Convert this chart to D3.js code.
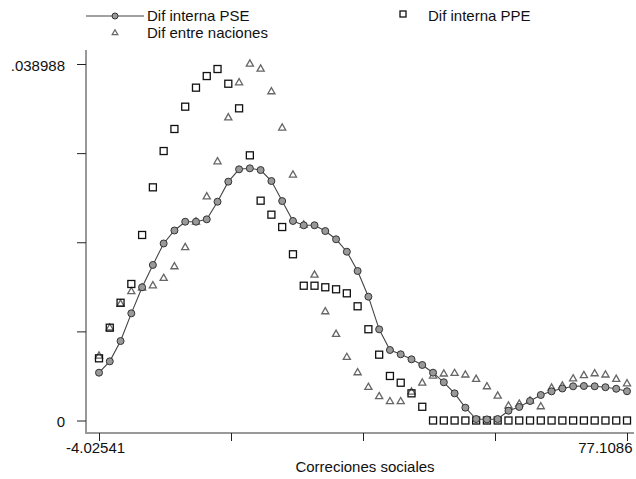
<!DOCTYPE html>
<html>
<head>
<meta charset="utf-8">
<script src="https://cdn.jsdelivr.net/npm/d3@7"></script>
<style>
  body { margin: 0; background: #fff; }
  text { font-family: "Liberation Sans", Arial, sans-serif; font-size: 15px; fill: #111; }
</style>
</head>
<body>
<svg id="chart" width="636" height="479"></svg>
<script>
// grid of kdensity points (50 points between min and max)
var xs = [-4.025, -2.370, -0.714, 0.942, 2.598, 4.254, 5.909, 7.565, 9.221, 10.877,
  12.533, 14.188, 15.844, 17.500, 19.156, 20.812, 22.467, 24.123, 25.779, 27.435,
  29.091, 30.746, 32.402, 34.058, 35.714, 37.370, 39.025, 40.681, 42.337, 43.993,
  45.649, 47.304, 48.960, 50.616, 52.272, 53.928, 55.583, 57.239, 58.895, 60.551,
  62.207, 63.862, 65.518, 67.174, 68.830, 70.486, 72.141, 73.797, 75.453, 77.109];

// Dif interna PSE (line + circles)
var pse = [0.00523, 0.00647, 0.00869, 0.01172, 0.01457, 0.01701, 0.01936, 0.02078, 0.02174, 0.02174,
  0.02200, 0.02393, 0.02612, 0.02747, 0.02758, 0.02739, 0.02619, 0.02400, 0.02182, 0.02135,
  0.02135, 0.02072, 0.01982, 0.01846, 0.01635, 0.01354, 0.00997, 0.00771, 0.00724, 0.00669,
  0.00607, 0.00523, 0.00418, 0.00297, 0.00140, 0.00016, 0.00012, 0.00016, 0.00107, 0.00148,
  0.00213, 0.00279, 0.00319, 0.00350, 0.00374, 0.00377, 0.00374, 0.00364, 0.00347, 0.00320];

// Dif interna PPE (squares)
var ppe = [0.00680, 0.01015, 0.01288, 0.01493, 0.02029, 0.02550, 0.02947, 0.03188, 0.03432, 0.03640,
  0.03767, 0.03844, 0.03683, 0.03414, 0.02900, 0.02404, 0.02251, 0.02116, 0.01818, 0.01474,
  0.01474, 0.01457, 0.01435, 0.01391, 0.01249, 0.00998, 0.00720, 0.00487, 0.00413, 0.00297,
  0.00150, 0, 0, 0, 0, 0, 0, 0, 0, 0,
  0, 0, 0, 0, 0, 0, 0, 0, 0, 0];

// Dif entre naciones (triangles)
var nac = [0.00705, 0.01012, 0.01274, 0.01409, 0.01449, 0.01474, 0.01555, 0.01682, 0.01892, 0.02171,
  0.02447, 0.02830, 0.03311, 0.03694, 0.038988, 0.03844, 0.03596, 0.03199, 0.02685, 0.02138,
  0.01591, 0.01190, 0.00943, 0.00691, 0.00523, 0.00363, 0.00262, 0.00206, 0.00206, 0.00312,
  0.00410, 0.00487, 0.00509, 0.00516, 0.00498, 0.00451, 0.00370, 0.00268, 0.00159, 0.00180,
  0.00213, 0.00151, 0.00355, 0.00377, 0.00456, 0.00492, 0.00512, 0.00498, 0.00451, 0.00402];

var xTicks = [-4.02541, 16.2581, 36.5416, 56.8251, 77.1086];
var xTickLabels = ["-4.02541", "", "", "", "77.1086"];
var yTicks = [0, 0.009747, 0.019494, 0.029241, 0.038988];
var yTickLabels = ["0", "", "", "", ".038988"];
var legendLabels = ["Dif interna PSE", "Dif interna PPE", "Dif entre naciones"];
var xTitle = "Correciones sociales";

var svg = d3.select("#chart");

var x = d3.scaleLinear().domain([-4.02541, 77.1086]).range([99, 627]);
var y = d3.scaleLinear().domain([0, 0.038988]).range([420.5, 64]);

// axis lines (stata style, grey)
svg.append("line").attr("x1", 86).attr("x2", 86).attr("y1", 50).attr("y2", 434)
  .style("stroke", "#999").style("stroke-width", 2);
svg.append("line").attr("x1", 85).attr("x2", 634).attr("y1", 433).attr("y2", 433)
  .style("stroke", "#999").style("stroke-width", 2);

var yAxis = svg.append("g").attr("transform", "translate(86,0)")
  .call(d3.axisLeft(y).tickValues(yTicks).tickSize(9).tickPadding(12)
    .tickFormat(function (d, i) { return yTickLabels[i]; }));
yAxis.select(".domain").remove();
yAxis.selectAll("line").style("stroke", "#222");
yAxis.selectAll("text").style("font-size", "15px").attr("fill", "#111").attr("dy", "0.4em");

var xAxis = svg.append("g").attr("transform", "translate(0,433)")
  .call(d3.axisBottom(x).tickValues(xTicks).tickSize(8).tickPadding(1)
    .tickFormat(function (d, i) { return xTickLabels[i]; }));
xAxis.select(".domain").remove();
xAxis.selectAll("line").style("stroke", "#222");
xAxis.selectAll("text").style("font-size", "15px").attr("fill", "#111");
// first label sits a bit left, last one is pushed in to the picture edge
xAxis.selectAll(".tick text").filter(function (d, i) { return i === 0; }).attr("dx", -4);
xAxis.selectAll(".tick text").filter(function (d, i) { return i === 4; })
  .attr("text-anchor", "end").attr("dx", 5);

svg.append("text").attr("x", 365).attr("y", 472).attr("text-anchor", "middle").text(xTitle);

var tri = d3.symbol().type(d3.symbolTriangle).size(22);

// triangles
svg.append("g").selectAll("path").data(nac).enter().append("path")
  .attr("d", tri)
  .attr("transform", function (d, i) { return "translate(" + x(xs[i]) + "," + y(d) + ")"; })
  .style("fill", "none").style("stroke", "#666").style("stroke-width", 1.3);

// squares
svg.append("g").selectAll("rect").data(ppe).enter().append("rect")
  .attr("x", function (d, i) { return x(xs[i]) - 3.5; })
  .attr("y", function (d) { return y(d) - 3.5; })
  .attr("width", 7).attr("height", 7)
  .style("fill", "none").style("stroke", "#111").style("stroke-width", 1.3);

// PSE line with circles
var line = d3.line().x(function (d, i) { return x(xs[i]); }).y(function (d) { return y(d); });
svg.append("path").datum(pse).attr("d", line)
  .style("fill", "none").style("stroke", "#444").style("stroke-width", 1.1);
svg.append("g").selectAll("circle").data(pse).enter().append("circle")
  .attr("cx", function (d, i) { return x(xs[i]); })
  .attr("cy", function (d) { return y(d); })
  .attr("r", 3.5)
  .style("fill", "#999").style("stroke", "#333").style("stroke-width", 1);

// legend
var lg = svg.append("g");
lg.append("line").attr("x1", 86).attr("x2", 144).attr("y1", 16).attr("y2", 16)
  .style("stroke", "#444").style("stroke-width", 1.1);
lg.append("circle").attr("cx", 115).attr("cy", 16).attr("r", 3)
  .style("fill", "#999").style("stroke", "#333");
lg.append("text").attr("x", 147).attr("y", 21).text(legendLabels[0]);
lg.append("rect").attr("x", 400).attr("y", 11).attr("width", 6).attr("height", 6)
  .style("fill", "none").style("stroke", "#111").style("stroke-width", 1.3);
lg.append("text").attr("x", 428).attr("y", 21).text(legendLabels[1]);
lg.append("path").attr("d", d3.symbol().type(d3.symbolTriangle).size(14))
  .attr("transform", "translate(115,33)")
  .style("fill", "none").style("stroke", "#666").style("stroke-width", 1.2);
lg.append("text").attr("x", 147).attr("y", 38).text(legendLabels[2]);
</script>
</body>
</html>
